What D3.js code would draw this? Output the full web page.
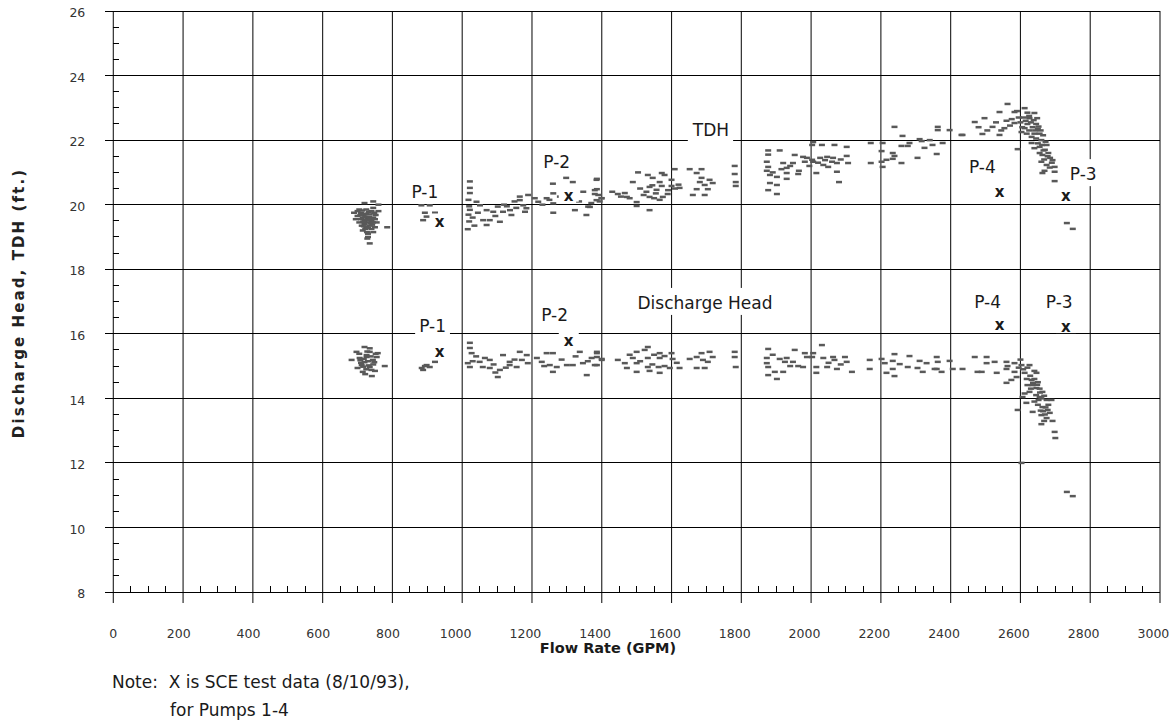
<!DOCTYPE html>
<html><head><meta charset="utf-8">
<script src="https://cdn.jsdelivr.net/npm/d3@7"></script>
<style>
html,body{margin:0;padding:0;background:#fff;}
svg{display:block;font-family:"DejaVu Sans",sans-serif;}
</style></head><body>
<svg id="chart" width="1173" height="725"></svg>
<script>
// ---------- DATA ----------
const xMajorTicks = [0,200,400,600,800,1000,1200,1400,1600,1800,2000,2200,2400,2600,2800,3000];
const yMajorTicks = [8,10,12,14,16,18,20,22,24,26];
const xTitle = "Flow Rate (GPM)";
const yTitle = "Discharge Head, TDH (ft.)";
const noteLines = ["Note:  X is SCE test data (8/10/93),", "for Pumps 1-4"];

// TDH readings [flow GPM, head ft]
const tdhPoints = [
[720,20.05],[745,20.1],[760,20.0],[700,19.8],[690,19.75],[705,19.85],[710,19.75],[725,19.85],[745,19.9],[735,19.7],[760,19.8],[700,19.65],[715,19.6],[730,19.55],[745,19.6],[710,19.55],[720,19.5],[728,19.45],[740,19.5],[705,19.45],[755,19.45],[720,19.4],[735,19.35],[750,19.3],[725,19.3],[740,19.25],[715,19.2],[730,19.1],[730,19.0],[785,19.3],[735,18.8],[712,19.35],[738,19.42],[722,19.62],[748,19.75],[695,19.55],
[718,19.68],[732,19.78],[726,19.52],[742,19.38],[716,19.47],[733,19.62],[724,19.72],[708,19.68],[737,19.55],[744,19.45],[722,19.25],[727,19.15],[750,19.55],[752,19.68],[713,19.82],[740,19.8],[730,19.28],[718,19.33],[745,19.15],[728,18.95],
[883,19.98],[907,19.98],[893,19.75],[922,19.75],[898,19.63],[888,19.52],
[1022,20.72],[1022,20.52],[1022,20.36],[1018,20.15],[1020,19.95],[1022,19.84],[1018,19.69],[1020,19.48],[1016,19.24],[1041,20.09],[1051,19.98],[1070,19.83],[1060,19.52],[1079,19.52],[1070,19.37],[1089,19.78],[1102,19.94],[1117,19.78],[1108,19.47],[1137,19.83],[1141,19.68],[1165,20.25],[1165,20.14],[1175,19.98],[1184,19.89],[1180,19.78],[1189,20.3],[1030,19.6],[1045,19.75],[1120,20.0],[1150,20.1],[1128,19.95],[1155,19.9],[1095,19.65],[1035,19.35],
[1208,20.2],[1218,20.09],[1242,20.2],[1261,20.35],[1261,20.04],[1261,19.75],[1300,21.07],[1298,20.83],[1317,20.7],[1260,20.65],[1323,19.83],[1347,20.4],[1361,19.94],[1356,19.68],[1385,20.77],[1380,20.45],[1390,20.3],[1385,20.14],[1399,20.2],[1230,20.0],[1250,20.15],[1280,20.25],[1335,20.1],[1370,20.05],
[1386,20.8],[1386,20.48],[1380,20.33],[1400,20.2],[1394,20.1],[1366,19.93],[1504,21.0],[1489,20.7],[1446,20.33],[1466,20.36],[1472,20.24],[1500,20.08],[1500,19.96],[1537,19.83],[1532,20.92],[1546,20.83],[1572,20.98],[1580,20.92],[1566,20.7],[1537,20.55],[1528,20.4],[1537,20.24],[1557,20.46],[1572,20.58],[1575,20.24],[1566,20.15],[1589,20.33],[1600,20.77],[1600,20.58],[1609,21.1],[1623,20.52],[1652,21.1],[1672,20.98],[1686,21.1],[1686,20.83],[1681,20.7],[1695,20.61],[1709,20.77],[1718,20.67],[1704,20.48],[1695,20.3],[1661,20.3],[1672,20.48],[1781,21.2],[1781,20.95],[1784,20.7],[1784,20.58],[1520,20.3],[1550,20.2],[1555,20.35],[1590,20.45],[1610,20.5],[1620,20.62],[1545,20.6],[1510,20.5],[1480,20.2],[1455,20.25],[1430,20.4],
[1877,21.68],[1877,21.55],[1910,21.68],[1873,21.33],[1877,21.17],[1873,21.05],[1882,20.92],[1882,20.67],[1877,20.45],[1902,20.33],[1902,20.61],[1902,20.86],[1920,21.29],[1930,21.14],[1930,20.98],[1930,20.8],[1948,21.29],[1953,21.54],[1965,21.05],[1963,20.95],[1977,21.48],[1982,21.33],[2006,21.94],[2003,21.85],[2031,21.85],[2067,21.85],[2102,21.79],[1988,21.45],[2006,21.33],[2026,21.45],[2046,21.48],[2063,21.45],[2060,21.33],[2035,21.23],[2049,21.17],[2074,21.29],[2102,21.51],[2106,21.29],[2015,20.98],[2074,21.02],[2080,20.7],[2003,21.39],[1890,21.0],[1915,21.1],[1940,21.2],[1995,21.2],[2020,21.3],[2040,21.38],[2085,21.4],
[2171,21.91],[2205,21.91],[2202,21.66],[2234,21.6],[2239,21.51],[2216,21.39],[2234,21.42],[2259,21.29],[2202,21.33],[2205,21.17],[2171,21.29],[2259,21.82],[2282,21.91],[2277,21.82],[2311,22.03],[2325,21.76],[2348,21.85],[2305,21.45],[2360,21.57],[2377,21.91],[2397,22.31],[2434,22.16],[2239,22.41],[2262,22.13],[2363,22.41],[2363,22.31],[2469,22.56],[2317,21.97],[2431,22.16],[2491,22.19],[2340,22.0],
[2520,22.41],[2540,22.16],[2554,22.37],[2583,22.53],[2592,21.72],[2612,22.37],[2563,23.12],[2583,22.87],[2497,22.68],[2540,22.87],[2612,22.99],[2640,22.84],[2626,22.68],[2505,22.3],[2530,22.55],[2560,22.6],[2570,22.45],[2595,22.7],[2600,22.55],[2605,22.4],[2615,22.6],[2620,22.5],[2625,22.3],[2630,22.55],[2635,22.4],[2640,22.2],[2645,22.5],[2650,22.35],[2632,22.1],[2645,22.05],[2655,22.2],[2660,22.0],[2665,22.15],[2650,21.9],[2632,21.91],[2655,21.79],[2663,21.54],[2660,21.33],[2675,21.23],[2698,21.17],[2698,21.02],[2663,20.98],[2669,21.05],[2698,20.73],[2670,21.7],[2675,21.85],[2680,21.6],[2685,21.45],[2690,21.3],[2668,21.4],[2655,21.6],[2640,21.75],[2733,19.43],[2750,19.25],[2575,22.65],[2590,22.9],[2620,22.85],[2545,22.3],[2480,22.4],
[2625,22.75],[2638,22.62],[2648,22.68],[2610,22.7],[2652,22.42],[2642,22.3],[2658,22.3],[2662,21.85],[2672,21.95],[2666,21.68],[2678,21.5],[2684,21.15],[2692,21.38],[2603,22.25],[2618,22.2]
];

// Discharge head readings [flow GPM, head ft]
const dischargePoints = [
[720,15.59],[697,15.44],[735,15.44],[758,15.4],[683,15.19],[706,15.25],[726,15.28],[744,15.19],[778,15.0],[712,15.03],[735,14.97],[715,14.82],[741,14.69],[700,14.94],[755,15.28],[726,15.34],[720,15.12],[730,15.15],[745,15.05],[710,15.1],[725,14.9],[750,14.85],[735,15.55],[705,15.38],
[718,15.22],[738,15.3],[728,15.45],[748,15.12],[716,14.98],[732,15.02],[722,14.75],[708,15.18],[740,14.88],[752,15.38],
[888,14.88],[898,15.03],[922,15.13],[907,14.97],[884,14.94],[893,15.0],
[1022,15.72],[1022,15.56],[1027,15.4],[1016,15.09],[1022,14.97],[1050,15.13],[1059,14.97],[1079,15.19],[1079,14.94],[1108,14.88],[1102,14.66],[1117,15.34],[1136,15.03],[1165,15.44],[1171,15.19],[1185,15.34],[1188,15.09],[1156,14.97],[1136,15.13],[1040,15.3],[1065,15.25],[1090,15.05],[1125,14.95],[1150,15.2],[1030,15.15],[1095,14.8],
[1242,15.4],[1260,15.4],[1251,15.03],[1271,14.97],[1260,14.82],[1300,15.03],[1317,15.03],[1337,15.44],[1346,15.09],[1357,14.72],[1371,15.25],[1386,15.4],[1386,15.03],[1400,15.19],[1228,15.13],[1214,15.25],[1285,15.2],[1325,15.3],[1360,15.15],[1235,15.0],
[1386,15.44],[1386,15.28],[1380,15.03],[1400,15.22],[1500,15.44],[1489,15.25],[1532,15.59],[1523,15.5],[1446,15.19],[1466,15.09],[1472,14.94],[1500,15.09],[1500,14.82],[1532,15.25],[1532,14.97],[1537,14.85],[1566,15.4],[1566,15.25],[1580,15.31],[1563,14.97],[1566,14.79],[1595,14.94],[1600,15.4],[1603,15.22],[1623,14.94],[1652,15.22],[1672,15.28],[1686,15.4],[1690,15.19],[1672,14.94],[1695,14.94],[1709,15.44],[1718,15.28],[1704,15.13],[1781,15.44],[1781,15.28],[1784,14.97],[1510,15.15],[1545,15.05],[1550,15.35],[1580,15.0],[1615,15.1],[1480,15.35],
[1877,15.53],[1873,15.25],[1873,15.09],[1877,14.97],[1877,14.72],[1896,14.82],[1910,15.22],[1925,15.13],[1920,14.82],[1902,14.6],[1930,15.25],[1953,15.5],[1948,15.13],[1963,15.0],[1982,15.4],[1988,15.28],[2006,15.4],[2003,15.28],[2031,15.65],[2035,15.25],[2063,15.28],[2067,15.19],[2097,15.28],[2102,15.13],[2015,14.97],[2046,14.97],[2074,14.91],[2117,14.82],[2015,14.79],[1977,14.97],[1890,15.35],[1940,15.0],[2050,15.1],[2085,15.05],
[2168,15.19],[2168,14.91],[2202,15.22],[2211,15.09],[2234,15.16],[2239,15.37],[2234,14.91],[2216,14.79],[2239,14.69],[2254,15.06],[2282,15.31],[2277,14.97],[2311,15.16],[2305,14.94],[2331,15.09],[2320,14.82],[2360,15.28],[2363,15.13],[2360,14.91],[2374,14.82],[2397,15.16],[2406,14.91],[2434,14.91],[2469,15.28],[2477,14.82],[2354,14.91],[2503,15.28],[2489,14.82],[2503,15.09],
[2526,15.13],[2532,14.79],[2560,15.13],[2563,15.0],[2560,14.91],[2583,15.09],[2583,14.82],[2574,14.57],[2560,14.48],[2589,14.66],[2603,15.03],[2626,15.03],[2612,14.79],[2646,14.79],[2632,14.57],[2620,14.41],[2635,14.41],[2646,14.32],[2663,14.2],[2626,14.2],[2606,14.04],[2655,14.04],[2675,13.95],[2689,13.95],[2617,13.86],[2592,13.64],[2663,13.73],[2678,13.64],[2635,13.58],[2660,13.48],[2675,13.39],[2692,13.3],[2660,13.2],[2698,12.96],[2700,12.77],[2603,12.0],[2733,11.1],[2750,10.97],[2640,14.6],[2650,14.5],[2630,14.3],[2645,14.1],[2660,14.0],[2640,13.9],[2650,13.8],[2665,13.6],[2670,13.5],[2640,14.85],[2600,15.2],[2595,14.95],[2620,14.95],[2655,14.3],[2612,14.15],[2680,13.8],
[2628,14.7],[2636,14.48],[2648,14.42],[2656,14.18],[2668,14.08],[2652,13.95],[2672,13.72],[2658,13.62],[2684,13.55],[2668,13.3],[2618,14.6],[2608,14.9]
];

// SCE test data (marked "x")
const sceTdh = [[935,19.42],[1305,20.25],[2540,20.37],[2730,20.25]];
const sceDischarge = [[935,15.41],[1305,15.75],[2540,16.24],[2730,16.18]];

// Text annotations [text, flow, head]
const annotations = [
["TDH",1713,22.13],["Discharge Head",1696,16.77],
["P-1",893,20.21],["P-2",1271,21.14],["P-4",2491,20.99],["P-3",2780,20.76],
["P-1",915,16.05],["P-2",1265,16.41],["P-4",2506,16.80],["P-3",2711,16.80]
];

// ---------- CHART ----------
const svg = d3.select('#chart');
const x = d3.scaleLinear().domain([0,3000]).range([113.3,1160]);
const y = d3.scaleLinear().domain([8,26]).range([592,11]);
const ink = '#1a1a1a';
const fmt = d3.format('d');

// vertical grid (incl. left axis and right border), extending below as major ticks
const gv = svg.append('g').attr('transform',`translate(0,${y(8)+11})`)
  .call(d3.axisBottom(x).tickValues(xMajorTicks).tickSize(-(y(8)+11-y(26))).tickFormat('').offset(0));
gv.select('.domain').remove();
gv.selectAll('line').attr('stroke',ink).attr('stroke-width',1.1);

// horizontal grid (extending left as major ticks)
const gh = svg.append('g').attr('transform',`translate(${x(0)-8},0)`)
  .call(d3.axisRight(y).tickValues(yMajorTicks).tickSize(x(3000)-x(0)+8).tickFormat('').offset(0));
gh.select('.domain').remove();
gh.selectAll('line').attr('stroke','#000').attr('stroke-width',1).attr('shape-rendering','crispEdges');

// minor ticks
const yMinor = d3.range(8.5,26,0.5).filter(v => v % 2 !== 0);
const gym = svg.append('g').attr('transform',`translate(${x(0)},0)`)
  .call(d3.axisRight(y).tickValues(yMinor).tickSize(6).tickFormat('').offset(0));
gym.select('.domain').remove();
gym.selectAll('line').attr('stroke','#000').attr('shape-rendering','crispEdges');
const xMinor = d3.range(50,3000,50).filter(v => v % 200 !== 0);
const gxm = svg.append('g').attr('transform',`translate(0,${y(8)})`)
  .call(d3.axisTop(x).tickValues(xMinor).tickSize(6).tickFormat('').offset(0));
gxm.select('.domain').remove();
gxm.selectAll('line').attr('stroke','#000').attr('shape-rendering','crispEdges');

// tick labels
const gyl = svg.append('g').attr('transform',`translate(${x(0)},0)`)
  .call(d3.axisLeft(y).tickValues(yMajorTicks).tickFormat(fmt).tickSize(0).tickPadding(28).offset(0));
gyl.select('.domain').remove();
gyl.selectAll('text').attr('font-size',12.5).attr('font-family','DejaVu Sans').attr('fill','#333').attr('dy','0.5em');
const gxl = svg.append('g').attr('transform',`translate(0,${y(8)})`)
  .call(d3.axisBottom(x).tickValues(xMajorTicks).tickFormat(fmt).tickSize(0).offset(0));
gxl.select('.domain').remove();
gxl.selectAll('text').attr('font-size',12.5).attr('font-family','DejaVu Sans').attr('fill','#333')
  .attr('y',46).attr('dy',null).attr('dx',d => -(String(d).length-1)*2.2);

// data markers
function drawMarks(pts){
  svg.append('g').selectAll('rect').data(pts).join('rect')
    .attr('x',d=>x(d[0])-3).attr('y',d=>y(d[1])-1.25)
    .attr('width',6).attr('height',2.5).attr('fill','#595959');
}
drawMarks(tdhPoints);
drawMarks(dischargePoints);

// boxed text helper
function boxedText(px,py,txt,opts){
  const g = svg.append('g');
  const r = g.append('rect').attr('fill','#fff');
  const t = g.append('text').attr('x',px).attr('y',py).attr('text-anchor','middle')
    .attr('font-size',opts.size).attr('font-weight',opts.weight||'normal')
    .attr('fill','#1a1a1a').text(txt);
  const b = t.node().getBBox();
  const p = opts.pad;
  const bottom = opts.cutDescent ? py + p[3] : b.y + b.height + p[3];
  r.attr('x',b.x-p[0]).attr('y',b.y-p[1]).attr('width',b.width+p[0]+p[2]).attr('height',bottom-(b.y-p[1]));
}
annotations.forEach(a => boxedText(x(a[1]), y(a[2]), a[0], {size:17, pad:[4,5,4,2]}));
sceTdh.concat(sceDischarge).forEach(d => boxedText(x(d[0]), y(d[1])+4.1, 'x', {size:15, weight:'bold', pad:[5,0,5,1], cutDescent:true}));

// axis titles
svg.append('text').attr('x',608).attr('y',653).attr('text-anchor','middle')
  .attr('font-size',14.5).attr('font-weight','bold').attr('fill','#1a1a1a').text(xTitle);
svg.append('text').attr('transform','translate(24,303) rotate(-90)').attr('text-anchor','middle')
  .attr('font-size',15).attr('font-weight','bold').attr('letter-spacing',2.1).attr('fill','#222').text(yTitle);

// note
svg.append('text').attr('x',112).attr('y',688).attr('font-size',17).attr('fill','#1a1a1a')
  .style('white-space','pre').text(noteLines[0]);
svg.append('text').attr('x',170).attr('y',716).attr('font-size',17).attr('fill','#1a1a1a')
  .text(noteLines[1]);
</script>
</body></html>
